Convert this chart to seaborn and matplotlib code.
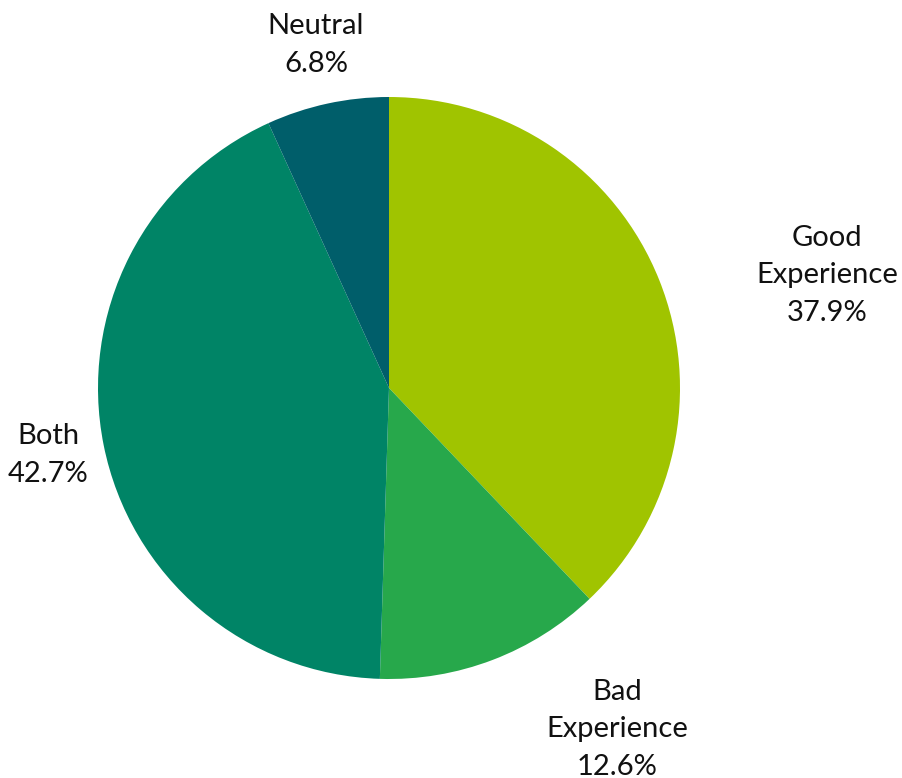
import matplotlib
matplotlib.use("Agg")
import matplotlib.pyplot as plt
import seaborn as sns

categories = ["Good\nExperience", "Bad\nExperience", "Both", "Neutral"]
shares = [37.9, 12.6, 42.7, 6.8]
colors = ["#A0C400", "#27A84B", "#008466", "#005E6A"]

# label anchor points, in pie-radius units
label_xy = [(1.505, 0.388), (0.784, -1.172), (-1.172, -0.230), (-0.251, 1.179)]

sns.set_theme(style="white")
plt.rcParams["font.family"] = ["Lato", "DejaVu Sans"]

fig = plt.figure(figsize=(9.02, 7.78), dpi=100)
ax = fig.add_axes([98 / 902, (778 - 679) / 778, 582 / 902, 582 / 778])
ax.pie(shares, colors=colors, startangle=90, counterclock=False, radius=1.0,
       wedgeprops=dict(linewidth=0))
ax.set_xlim(-1, 1)
ax.set_ylim(-1, 1)
ax.set_aspect("equal")
ax.axis("off")

for name, val, (x, y) in zip(categories, shares, label_xy):
    ax.text(x, y, f"{name}\n{val:.1f}%", ha="center", va="center",
            multialignment="center", fontsize=21, linespacing=1.55,
            color="#111111", clip_on=False)

fig.savefig("out.png", dpi=100, facecolor="white")
